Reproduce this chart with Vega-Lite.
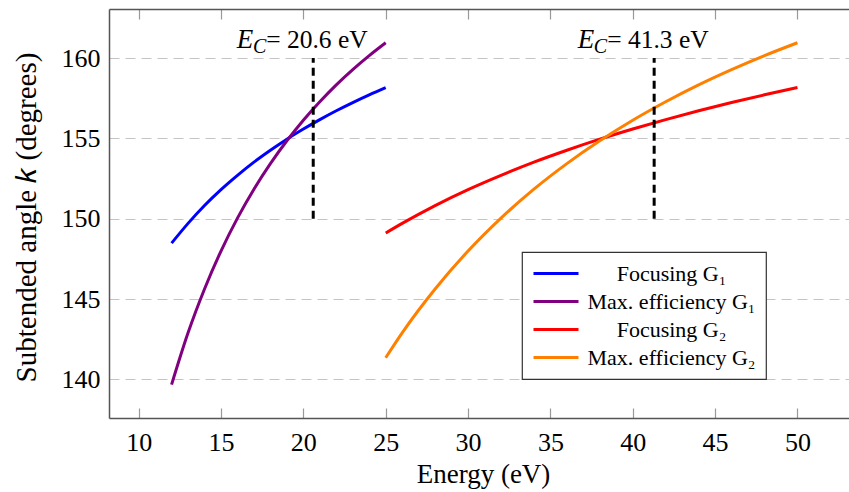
{
  "$schema": "https://vega.github.io/schema/vega-lite/v6.json",
  "width": 740,
  "height": 409,
  "autosize": {"type": "none"},
  "padding": {"left": 109, "top": 9, "right": 0, "bottom": 74},
  "config": {
    "view": {"stroke": null},
    "font": "Liberation Serif",
    "axis": {
      "labelFont": "Liberation Serif",
      "labelFontSize": 26,
      "labelColor": "#000000",
      "titleFont": "Liberation Serif",
      "titleFontSize": 27,
      "titleFontWeight": "normal",
      "titleColor": "#000000",
      "domainColor": "#555555",
      "domainWidth": 1.5,
      "tickColor": "#999999",
      "tickWidth": 1.2
    },
    "legend": {
      "orient": "none",
      "legendX": 413,
      "legendY": 243,
      "symbolType": "M-2.25,0H2.25",
      "symbolSize": 400,
      "symbolOffset": 12.5,
      "symbolStrokeWidth": 3,
      "labelFont": "Liberation Serif",
      "labelFontSize": 22,
      "labelColor": "#000000",
      "labelAlign": "center",
      "labelOffset": 104,
      "labelLimit": 400,
      "padding": 10,
      "rowPadding": 5,
      "strokeColor": "#333333",
      "strokeWidth": 1.2,
      "fillColor": "#ffffff"
    }
  },
  "datasets": {
    "curves": [
      {"series": "Focusing G₁", "E": 12, "k": 148.48},
      {"series": "Focusing G₁", "E": 13, "k": 149.71},
      {"series": "Focusing G₁", "E": 14, "k": 150.82},
      {"series": "Focusing G₁", "E": 15, "k": 151.81},
      {"series": "Focusing G₁", "E": 16, "k": 152.70},
      {"series": "Focusing G₁", "E": 17, "k": 153.52},
      {"series": "Focusing G₁", "E": 18, "k": 154.26},
      {"series": "Focusing G₁", "E": 19, "k": 154.95},
      {"series": "Focusing G₁", "E": 20, "k": 155.58},
      {"series": "Focusing G₁", "E": 21, "k": 156.17},
      {"series": "Focusing G₁", "E": 22, "k": 156.72},
      {"series": "Focusing G₁", "E": 23, "k": 157.23},
      {"series": "Focusing G₁", "E": 24, "k": 157.71},
      {"series": "Focusing G₁", "E": 25, "k": 158.16},
      {"series": "Max. efficiency G₁", "E": 12, "k": 139.68},
      {"series": "Max. efficiency G₁", "E": 13, "k": 142.90},
      {"series": "Max. efficiency G₁", "E": 14, "k": 145.63},
      {"series": "Max. efficiency G₁", "E": 15, "k": 147.99},
      {"series": "Max. efficiency G₁", "E": 16, "k": 150.04},
      {"series": "Max. efficiency G₁", "E": 17, "k": 151.84},
      {"series": "Max. efficiency G₁", "E": 18, "k": 153.43},
      {"series": "Max. efficiency G₁", "E": 19, "k": 154.85},
      {"series": "Max. efficiency G₁", "E": 20, "k": 156.13},
      {"series": "Max. efficiency G₁", "E": 21, "k": 157.28},
      {"series": "Max. efficiency G₁", "E": 22, "k": 158.33},
      {"series": "Max. efficiency G₁", "E": 23, "k": 159.28},
      {"series": "Max. efficiency G₁", "E": 24, "k": 160.15},
      {"series": "Max. efficiency G₁", "E": 25, "k": 160.95},
      {"series": "Focusing G₂", "E": 25, "k": 149.11},
      {"series": "Focusing G₂", "E": 26, "k": 149.71},
      {"series": "Focusing G₂", "E": 28, "k": 150.82},
      {"series": "Focusing G₂", "E": 30, "k": 151.81},
      {"series": "Focusing G₂", "E": 32, "k": 152.70},
      {"series": "Focusing G₂", "E": 34, "k": 153.52},
      {"series": "Focusing G₂", "E": 36, "k": 154.26},
      {"series": "Focusing G₂", "E": 38, "k": 154.95},
      {"series": "Focusing G₂", "E": 40, "k": 155.58},
      {"series": "Focusing G₂", "E": 42, "k": 156.17},
      {"series": "Focusing G₂", "E": 44, "k": 156.72},
      {"series": "Focusing G₂", "E": 46, "k": 157.23},
      {"series": "Focusing G₂", "E": 48, "k": 157.71},
      {"series": "Focusing G₂", "E": 50, "k": 158.16},
      {"series": "Max. efficiency G₂", "E": 25, "k": 141.35},
      {"series": "Max. efficiency G₂", "E": 26, "k": 142.90},
      {"series": "Max. efficiency G₂", "E": 28, "k": 145.63},
      {"series": "Max. efficiency G₂", "E": 30, "k": 147.99},
      {"series": "Max. efficiency G₂", "E": 32, "k": 150.04},
      {"series": "Max. efficiency G₂", "E": 34, "k": 151.84},
      {"series": "Max. efficiency G₂", "E": 36, "k": 153.43},
      {"series": "Max. efficiency G₂", "E": 38, "k": 154.85},
      {"series": "Max. efficiency G₂", "E": 40, "k": 156.13},
      {"series": "Max. efficiency G₂", "E": 42, "k": 157.28},
      {"series": "Max. efficiency G₂", "E": 44, "k": 158.33},
      {"series": "Max. efficiency G₂", "E": 46, "k": 159.28},
      {"series": "Max. efficiency G₂", "E": 48, "k": 160.15},
      {"series": "Max. efficiency G₂", "E": 50, "k": 160.95}
    ],
    "markers": [
      {"Ec": 20.6, "k0": 150, "k1": 160, "ky": 160.6, "sym": "E", "sub": "C", "rest": "= 20.6 eV"},
      {"Ec": 41.3, "k0": 150, "k1": 160, "ky": 160.6, "sym": "E", "sub": "C", "rest": "= 41.3 eV"}
    ]
  },
  "layer": [
    {
      "data": {"name": "curves"},
      "mark": {"type": "line", "strokeWidth": 3, "interpolate": "monotone", "clip": true},
      "encoding": {
        "x": {
          "field": "E",
          "type": "quantitative",
          "scale": {"domain": [8.2, 53.13], "nice": false, "zero": false},
          "axis": {
            "orient": "bottom",
            "values": [10, 15, 20, 25, 30, 35, 40, 45, 50],
            "grid": false,
            "tickSize": -10,
            "labelPadding": 21,
            "title": "Energy (eV)",
            "titleX": 374,
            "titleY": 64,
            "titleBaseline": "alphabetic"
          }
        },
        "y": {
          "field": "k",
          "type": "quantitative",
          "scale": {"domain": [137.6, 163.05], "nice": false, "zero": false},
          "axis": {
            "values": [140, 145, 150, 155, 160],
            "grid": true,
            "gridDash": [10, 6],
            "gridColor": "#c4c4c4",
            "gridWidth": 1.2,
            "ticks": false,
            "labelPadding": 9,
            "title": "Subtended angle 𝑘 (degrees)",
            "titleFontSize": 29,
            "titleAngle": -90,
            "titleX": -73.5,
            "titleY": 208,
            "titleAlign": "center",
            "titleBaseline": "alphabetic"
          }
        },
        "color": {
          "field": "series",
          "type": "nominal",
          "scale": {
            "domain": ["Focusing G₁", "Max. efficiency G₁", "Focusing G₂", "Max. efficiency G₂"],
            "range": ["#0000ff", "#800080", "#ff0000", "#ff8000"]
          },
          "legend": {"title": null}
        }
      }
    },
    {
      "data": {"name": "markers"},
      "mark": {"type": "rule", "strokeWidth": 3, "strokeDash": [8, 5], "color": "#000000"},
      "encoding": {
        "x": {
          "field": "Ec",
          "type": "quantitative",
          "axis": {
            "orient": "top",
            "values": [10, 15, 20, 25, 30, 35, 40, 45, 50],
            "labels": false,
            "grid": false,
            "tickSize": -10,
            "title": null
          }
        },
        "y": {
          "field": "k0",
          "type": "quantitative",
          "axis": {
            "values": [140, 145, 150, 155, 160],
            "grid": true,
            "gridDash": [10, 6],
            "gridColor": "#c4c4c4",
            "gridWidth": 1.2,
            "ticks": false,
            "labelPadding": 9,
            "title": "Subtended angle 𝑘 (degrees)",
            "titleFontSize": 29,
            "titleAngle": -90,
            "titleX": -73.5,
            "titleY": 208,
            "titleAlign": "center",
            "titleBaseline": "alphabetic"
          }
        },
        "y2": {"field": "k1"}
      }
    },
    {
      "data": {"name": "markers"},
      "mark": {"type": "text", "align": "left", "baseline": "alphabetic", "dx": -47, "fontSize": 25.5, "font": "Liberation Serif", "color": "#000000"},
      "encoding": {
        "x": {"field": "Ec", "type": "quantitative", "axis": null},
        "y": {
          "field": "ky",
          "type": "quantitative",
          "axis": {
            "values": [140, 145, 150, 155, 160],
            "grid": true,
            "gridDash": [10, 6],
            "gridColor": "#c4c4c4",
            "gridWidth": 1.2,
            "ticks": false,
            "labelPadding": 9,
            "title": "Subtended angle 𝑘 (degrees)",
            "titleFontSize": 29,
            "titleAngle": -90,
            "titleX": -73.5,
            "titleY": 208,
            "titleAlign": "center",
            "titleBaseline": "alphabetic"
          }
        },
        "text": {"field": "rest"}
      }
    },
    {
      "data": {"name": "markers"},
      "mark": {"type": "text", "align": "right", "baseline": "alphabetic", "dx": -47, "dy": 5, "fontSize": 20, "fontStyle": "italic", "font": "Liberation Serif", "color": "#000000"},
      "encoding": {
        "x": {"field": "Ec", "type": "quantitative", "axis": null},
        "y": {
          "field": "ky",
          "type": "quantitative",
          "axis": {
            "values": [140, 145, 150, 155, 160],
            "grid": true,
            "gridDash": [10, 6],
            "gridColor": "#c4c4c4",
            "gridWidth": 1.2,
            "ticks": false,
            "labelPadding": 9,
            "title": "Subtended angle 𝑘 (degrees)",
            "titleFontSize": 29,
            "titleAngle": -90,
            "titleX": -73.5,
            "titleY": 208,
            "titleAlign": "center",
            "titleBaseline": "alphabetic"
          }
        },
        "text": {"field": "sub"}
      }
    },
    {
      "data": {"name": "markers"},
      "mark": {"type": "text", "align": "right", "baseline": "alphabetic", "dx": -60, "fontSize": 27, "fontStyle": "italic", "font": "Liberation Serif", "color": "#000000"},
      "encoding": {
        "x": {"field": "Ec", "type": "quantitative", "axis": null},
        "y": {
          "field": "ky",
          "type": "quantitative",
          "axis": {
            "values": [140, 145, 150, 155, 160],
            "grid": true,
            "gridDash": [10, 6],
            "gridColor": "#c4c4c4",
            "gridWidth": 1.2,
            "ticks": false,
            "labelPadding": 9,
            "title": "Subtended angle 𝑘 (degrees)",
            "titleFontSize": 29,
            "titleAngle": -90,
            "titleX": -73.5,
            "titleY": 208,
            "titleAlign": "center",
            "titleBaseline": "alphabetic"
          }
        },
        "text": {"field": "sym"}
      }
    }
  ]
}
